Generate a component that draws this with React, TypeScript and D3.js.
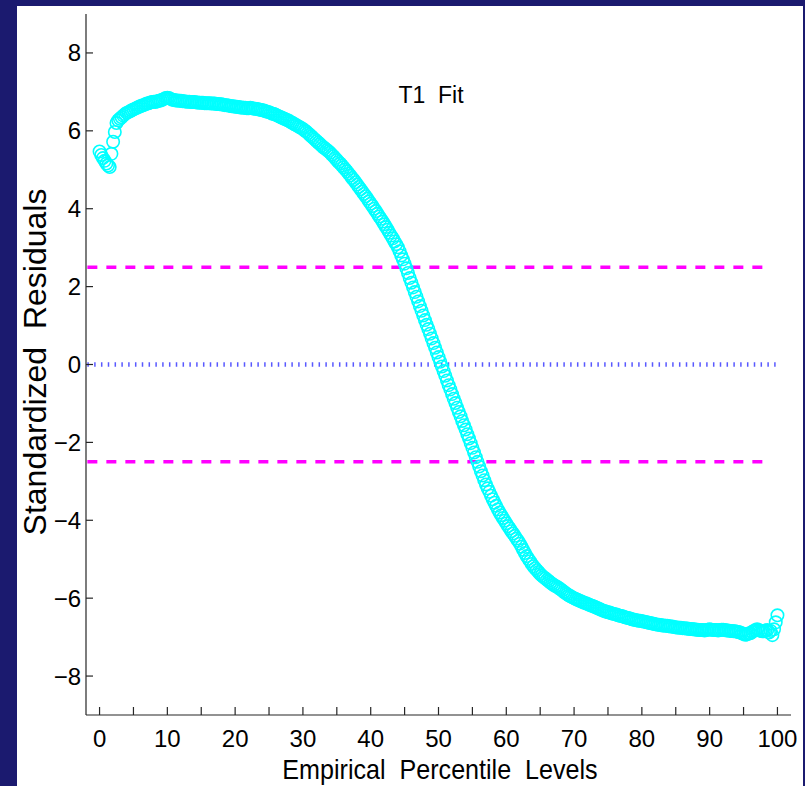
import React from "react";
import * as d3 from "d3";

// Standardized residuals of the T1 fit, one value per empirical percentile level
// (levels run from 0 to 100 in steps of PERCENTILE_STEP).
const PERCENTILE_STEP = 0.25;
const residuals: number[] = [
  5.47, 5.38, 5.30, 5.23, 5.16, 5.11, 5.07, 5.41, 5.72, 5.97, 6.20, 6.27,
  6.31, 6.35, 6.39, 6.43, 6.46, 6.48, 6.50, 6.53, 6.55, 6.57, 6.59, 6.61,
  6.63, 6.65, 6.66, 6.68, 6.70, 6.71, 6.73, 6.74, 6.75, 6.74, 6.76, 6.77,
  6.78, 6.80, 6.82, 6.84, 6.85, 6.84, 6.82, 6.80, 6.79, 6.78, 6.78, 6.77,
  6.77, 6.76, 6.76, 6.75, 6.75, 6.75, 6.74, 6.74, 6.74, 6.73, 6.73, 6.72,
  6.72, 6.72, 6.71, 6.71, 6.71, 6.71, 6.70, 6.70, 6.70, 6.69, 6.69, 6.68,
  6.68, 6.67, 6.66, 6.66, 6.65, 6.64, 6.63, 6.63, 6.62, 6.62, 6.61, 6.60,
  6.60, 6.59, 6.59, 6.58, 6.58, 6.59, 6.58, 6.57, 6.57, 6.56, 6.55, 6.54,
  6.53, 6.52, 6.50, 6.49, 6.48, 6.46, 6.44, 6.43, 6.41, 6.39, 6.37, 6.35,
  6.33, 6.31, 6.29, 6.27, 6.25, 6.22, 6.20, 6.17, 6.15, 6.12, 6.10, 6.07,
  6.05, 6.01, 5.98, 5.94, 5.90, 5.86, 5.82, 5.78, 5.74, 5.70, 5.66, 5.62,
  5.58, 5.55, 5.51, 5.48, 5.44, 5.39, 5.35, 5.30, 5.25, 5.20, 5.16, 5.11,
  5.06, 5.01, 4.96, 4.90, 4.85, 4.79, 4.74, 4.68, 4.62, 4.56, 4.50, 4.44,
  4.38, 4.32, 4.26, 4.19, 4.13, 4.07, 4.00, 3.94, 3.87, 3.80, 3.74, 3.67,
  3.60, 3.53, 3.46, 3.38, 3.31, 3.24, 3.16, 3.09, 3.01, 2.91, 2.80, 2.70,
  2.59, 2.47, 2.35, 2.22, 2.10, 1.98, 1.86, 1.74, 1.62, 1.50, 1.38, 1.26,
  1.14, 1.02, 0.91, 0.79, 0.67, 0.55, 0.43, 0.31, 0.19, 0.07, -0.05, -0.17,
  -0.29, -0.41, -0.53, -0.64, -0.76, -0.88, -0.99, -1.11, -1.22, -1.33, -1.45, -1.56,
  -1.67, -1.79, -1.90, -2.02, -2.14, -2.26, -2.38, -2.50, -2.62, -2.74, -2.85, -2.97,
  -3.08, -3.18, -3.27, -3.37, -3.46, -3.55, -3.63, -3.72, -3.80, -3.87, -3.94, -4.01,
  -4.08, -4.15, -4.21, -4.28, -4.34, -4.40, -4.47, -4.53, -4.60, -4.68, -4.76, -4.84,
  -4.92, -4.99, -5.05, -5.12, -5.18, -5.23, -5.28, -5.33, -5.38, -5.42, -5.46, -5.49,
  -5.53, -5.56, -5.60, -5.63, -5.66, -5.69, -5.71, -5.74, -5.77, -5.80, -5.84, -5.87,
  -5.90, -5.93, -5.95, -5.98, -6.00, -6.02, -6.04, -6.06, -6.08, -6.10, -6.12, -6.13,
  -6.15, -6.17, -6.19, -6.20, -6.22, -6.24, -6.26, -6.28, -6.30, -6.32, -6.33, -6.35,
  -6.36, -6.37, -6.39, -6.40, -6.41, -6.42, -6.44, -6.45, -6.46, -6.47, -6.49, -6.50,
  -6.51, -6.52, -6.54, -6.55, -6.56, -6.57, -6.58, -6.58, -6.59, -6.60, -6.61, -6.62,
  -6.63, -6.64, -6.65, -6.66, -6.67, -6.68, -6.68, -6.69, -6.70, -6.70, -6.71, -6.71,
  -6.72, -6.73, -6.73, -6.74, -6.75, -6.75, -6.76, -6.76, -6.77, -6.77, -6.78, -6.78,
  -6.79, -6.79, -6.80, -6.80, -6.81, -6.81, -6.82, -6.82, -6.82, -6.83, -6.82, -6.81,
  -6.80, -6.81, -6.82, -6.82, -6.82, -6.83, -6.82, -6.81, -6.81, -6.82, -6.83, -6.83,
  -6.84, -6.84, -6.85, -6.85, -6.86, -6.87, -6.88, -6.90, -6.92, -6.94, -6.93, -6.91,
  -6.90, -6.87, -6.84, -6.82, -6.80, -6.82, -6.84, -6.85, -6.85, -6.83, -6.82, -6.88,
  -6.84, -6.95, -6.80, -6.62, -6.44,
];

// Reference levels drawn across the plot
const outlierBounds = [2.5, -2.5];
const zeroLevel = 0;

// Axis ticks
const xTicksMajor = [0, 10, 20, 30, 40, 50, 60, 70, 80, 90, 100];
const xTicksMinor = [5, 15, 25, 35, 45, 55, 65, 75, 85, 95];
const yTicks = [-8, -6, -4, -2, 0, 2, 4, 6, 8];

const title = "T1  Fit";
const xLabel = "Empirical  Percentile  Levels";
const yLabel = "Standardized  Residuals";

const W = 805;
const H = 786;
const FONT = "'Liberation Sans', Arial, Helvetica, sans-serif";

export default function App() {
  const x = d3.scaleLinear().domain([-2, 102]).range([86, 791]);
  const y = d3.scaleLinear().domain([-9, 9]).range([715, 14]);

  const points = residuals.map((r, i) => ({ p: i * PERCENTILE_STEP, r }));
  const fmt = (v: number) => (v < 0 ? "\u2212" + Math.abs(v) : String(v));

  return (
    <svg
      width={W}
      height={H}
      style={{ position: "absolute", left: 0, top: 0 }}
      fontFamily={FONT}
    >
      <rect x={0} y={0} width={W} height={H} fill="#1b1a6f" />
      <rect x={17} y={6} width={786} height={H - 6} fill="#ffffff" />

      {/* reference levels */}
      {outlierBounds.map((b) => (
        <line
          key={b}
          x1={x(-1.8)}
          x2={x(99)}
          y1={y(b)}
          y2={y(b)}
          stroke="#ff00ff"
          strokeWidth={3.5}
          strokeDasharray="10 9"
        />
      ))}
      <line
        x1={x(-1.8)}
        x2={x(100)}
        y1={y(zeroLevel)}
        y2={y(zeroLevel)}
        stroke="#2f2fff"
        strokeWidth={4.5}
        strokeOpacity={0.8}
        strokeDasharray="1.5 5.3"
      />

      {/* residual markers */}
      <g fill="none" stroke="#00ffff" strokeWidth={1.6}>
        {points.map((d, i) => (
          <circle key={i} cx={x(d.p)} cy={y(d.r)} r={6.2} />
        ))}
      </g>

      {/* axes */}
      <g stroke="#262626" strokeWidth={1.2} fill="none">
        <line x1={86} x2={86} y1={y(9)} y2={y(-9)} />
        <line x1={86} x2={791} y1={y(-9)} y2={y(-9)} />
        {yTicks.map((t) => (
          <line key={t} x1={86} x2={93} y1={y(t)} y2={y(t)} />
        ))}
        {xTicksMajor.concat(xTicksMinor).map((t) => (
          <line key={t} x1={x(t)} x2={x(t)} y1={y(-9)} y2={y(-9) - 8} />
        ))}
      </g>

      <g fontSize={24} fill="#000">
        {yTicks.map((t) => (
          <text key={t} x={81} y={y(t) + 8.5} textAnchor="end">
            {fmt(t)}
          </text>
        ))}
        {xTicksMajor.map((t) => (
          <text key={t} x={x(t)} y={747} textAnchor="middle">
            {fmt(t)}
          </text>
        ))}
      </g>

      <text
        x={431}
        y={103}
        fontSize={23}
        textAnchor="middle"
        style={{ whiteSpace: "pre" }}
      >
        {title}
      </text>

      <text
        transform="translate(440, 779) scale(0.93, 1)"
        fontSize={27}
        textAnchor="middle"
        style={{ whiteSpace: "pre" }}
      >
        {xLabel}
      </text>

      <text
        transform="translate(46, 362) rotate(-90)"
        fontSize={32}
        textAnchor="middle"
        style={{ whiteSpace: "pre" }}
      >
        {yLabel}
      </text>
    </svg>
  );
}
